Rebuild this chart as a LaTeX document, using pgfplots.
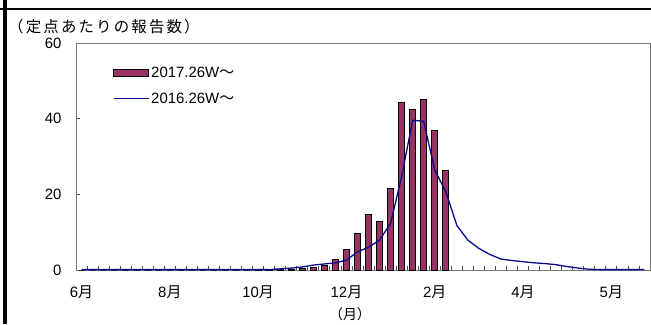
\documentclass[border=0pt]{standalone}
\usepackage{fontspec}
\setmainfont{Liberation Sans}
\newfontfamily\cjk{Noto Sans CJK JP}
\newfontfamily\cjkwide{Noto Sans CJK JP}[LetterSpace=14]
\usepackage{pgfplots}
\usepackage{pgfplotstable}
\pgfplotsset{compat=1.18}
\definecolor{barfill}{RGB}{153,51,102}
\definecolor{linecol}{RGB}{10,10,140}
\definecolor{framegray}{RGB}{120,120,120}

\pgfplotstableread{
i  v
0  0.0
1  0.0
2  0.0
3  0.0
4  0.0
5  0.0
6  0.0
7  0.0
8  0.0
9  0.0
10 0.0
11 0.0
12 0.0
13 0.0
14 0.0
15 0.0
16 0.1
17 0.1
18 0.1
19 0.2
20 0.3
21 0.7
22 1.3
23 2.8
24 5.3
25 9.6
26 14.7
27 12.7
28 21.6
29 44.2
30 42.5
31 45.1
32 36.8
33 26.3
}\bars

\pgfplotstableread{
i  v
0  0.1
1  0.1
2  0.1
3  0.1
4  0.1
5  0.1
6  0.1
7  0.1
8  0.1
9  0.1
10 0.1
11 0.1
12 0.1
13 0.1
14 0.1
15 0.1
16 0.1
17 0.1
18 0.3
19 0.5
20 0.8
21 1.3
22 1.6
23 1.9
24 2.6
25 4.8
26 6.0
27 7.9
28 12.3
29 24.7
30 39.6
31 39.3
32 26.4
33 20.7
34 11.8
35 7.9
36 5.7
37 4.1
38 2.9
39 2.5
40 2.2
41 1.9
42 1.7
43 1.4
44 0.9
45 0.5
46 0.2
47 0.1
48 0.1
49 0.1
50 0.1
51 0.1
}\lines

\begin{document}
\begin{tikzpicture}
\begin{axis}[scale only axis,
  width=574bp, height=227bp,
  xmin=-0.5, xmax=51.5, ymin=0, ymax=60,
  xtick={0,8,16,24,32,40,48},
  xticklabels={6{\cjk 月},8{\cjk 月},10{\cjk 月},12{\cjk 月},2{\cjk 月},4{\cjk 月},5{\cjk 月}},
  minor xtick={-0.5,0.5,...,51.5},
  major x tick style={draw=none},
  minor tick length=4bp,
  ytick={0,20,40,60},
  major tick length=4bp,
  tick align=inside,
  xtick pos=bottom, ytick pos=left,
  axis line style={framegray, line width=1bp},
  tick style={black!70, line width=0.8bp},
  tick label style={font=\fontsize{15}{15}\selectfont},
  /pgf/number format/assume math mode=true,
  xticklabel style={yshift=-12bp},
  yticklabel style={xshift=-11bp},
  legend style={draw=none, fill=none, at={(axis description cs:0.064,0.905)}, anchor=north west,
    font=\fontsize{15}{15}\selectfont, row sep=10bp, inner sep=0pt},
  legend cell align=left,
]
\addplot[ybar, bar width=6bp, bar shift=0pt, fill=barfill, draw=black, line width=1bp,
  legend image code/.code={\draw[fill=barfill, draw=black, line width=1bp] (0bp,-3.5bp) rectangle (35bp,3.5bp);}]
  table[x=i, y=v] {\bars};
\addlegendentry{2017.26W{\cjk 〜}}
\addplot[linecol, line width=1.3bp, mark=none,
  legend image code/.code={\draw[linecol, line width=1.3bp] (0bp,0bp) -- (35bp,0bp);}]
  table[x=i, y=v] {\lines};
\addlegendentry{2016.26W{\cjk 〜}}
\coordinate (O) at (rel axis cs:0,0);
\end{axis}
\begin{scope}[shift={(O)}, x=1bp, y=1bp, shift={(-76,-54)}]
\fill[black] (3,0) rectangle (7,324);
\fill[black] (0,314) rectangle (651,316);
\node[anchor=west, inner sep=0, font=\cjkwide\fontsize{15.5}{15.5}\selectfont] at (8,297.5) {（定点あたりの報告数）};
\node[inner sep=0, font=\cjk\fontsize{14}{14}\selectfont] at (350,10) {（月）};
\end{scope}
\pgfresetboundingbox
\path[use as bounding box, shift={(O)}, x=1bp, y=1bp, shift={(-76,-54)}] (0,0) rectangle (651,324);
\end{tikzpicture}
\end{document}
